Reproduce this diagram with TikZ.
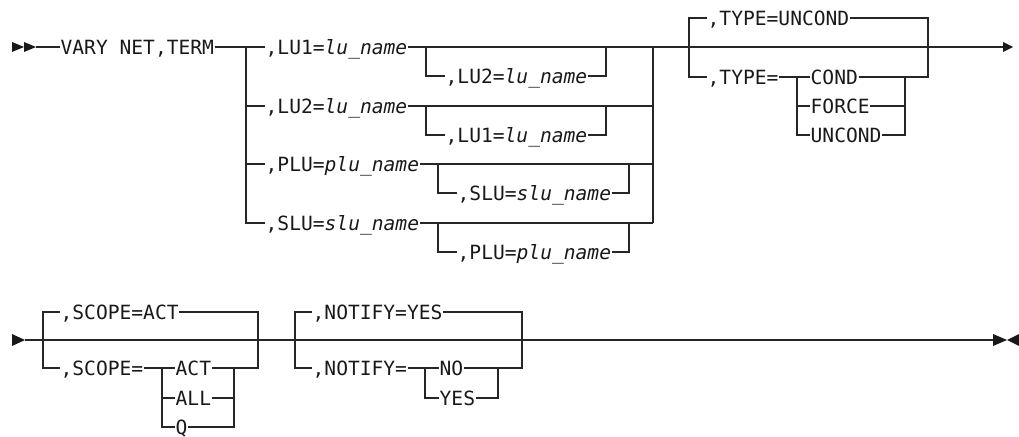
\documentclass[tikz,border=0pt]{standalone}
\usepackage{fontspec}
\newfontfamily\rrfont{DejaVu Sans Mono}[ItalicFont={DejaVu Sans Mono Oblique}]
\tikzset{
  rail/.style={line width=1.3pt, draw=black!85},
  kw/.style={inner sep=0pt, anchor=west, text height=14.3pt, text depth=0pt,
    font=\rrfont\fontsize{19.6}{24}\selectfont, text=black!90},
  tip/.style={fill=black!90},
}
\newcommand{\var}[1]{\textit{#1}}
\begin{document}
\begin{tikzpicture}[x=1pt,y=-1pt]
\useasboundingbox (0,0) rectangle (1019,436);
\begin{scope}[rail]
% ---------------- row 1 ----------------
\fill[tip] (12,42) -- (24,47) -- (12,52) -- cycle;
\fill[tip] (24,42) -- (36,47) -- (24,52) -- cycle;
\coordinate (a0) at (36,47);
\node[kw] (vary) at (60,47) {VARY NET,TERM};
\draw (a0) -- (vary.west);
\coordinate (b1) at (246,47);
\node[kw] (lu1) at (265,47)  {,LU1=\var{lu\_name}};
\node[kw] (lu2) at (265,106) {,LU2=\var{lu\_name}};
\node[kw] (plu) at (265,164) {,PLU=\var{plu\_name}};
\node[kw] (slu) at (265,223) {,SLU=\var{slu\_name}};
\draw (vary.east) -- (lu1.west);
\draw (b1) |- (lu2.west);
\draw (b1) |- (plu.west);
\draw (b1) |- (slu.west);
% right joiner
\coordinate (c1) at (653,47);
\coordinate (c4) at (653,223);
\draw (c1) -- (c4);
\draw (lu1.east) -- (c1);
\draw (lu2.east) -- (lu2.east -| c1);
\draw (plu.east) -- (plu.east -| c1);
\draw (slu.east) -- (slu.east -| c1);
% nested optional items
\coordinate (n1l) at (426,47);  \coordinate (n1r) at (606,47);
\node[kw] (lu1b) at (445,76) {,LU2=\var{lu\_name}};
\draw (n1l) |- (lu1b.west); \draw (lu1b.east) -| (n1r);
\coordinate (n2l) at (426,106); \coordinate (n2r) at (606,106);
\node[kw] (lu2b) at (445,135) {,LU1=\var{lu\_name}};
\draw (n2l) |- (lu2b.west); \draw (lu2b.east) -| (n2r);
\coordinate (n3l) at (438,164); \coordinate (n3r) at (629,164);
\node[kw] (plub) at (457,193) {,SLU=\var{slu\_name}};
\draw (n3l) |- (plub.west); \draw (plub.east) -| (n3r);
\coordinate (n4l) at (438,223); \coordinate (n4r) at (629,223);
\node[kw] (slub) at (457,252) {,PLU=\var{plu\_name}};
\draw (n4l) |- (slub.west); \draw (slub.east) -| (n4r);
% main line to continuation arrow
\coordinate (e1) at (1003,47);
\draw (c1) -- (e1);
\fill[tip] (1003,42) -- (1013,47) -- (1003,52) -- cycle;
% TYPE
\coordinate (t1) at (689,47); \coordinate (t2) at (928,47);
\node[kw] (tdef) at (707,18) {,TYPE=UNCOND};
\node[kw] (teq)  at (707,77) {,TYPE=};
\draw (t1) |- (tdef.west); \draw (tdef.east) -| (t2);
\draw (t1) |- (teq.west);
\coordinate (ti) at (797,77); \coordinate (to) at (905,77);
\node[kw] (tc) at (810,77)  {COND};
\node[kw] (tf) at (810,106) {FORCE};
\node[kw] (tu) at (810,135) {UNCOND};
\draw (teq.east) -- (ti);
\draw (ti) -- (tc.west); \draw (ti) |- (tf.west); \draw (ti) |- (tu.west);
\draw (tc.east) -- (to); \draw (tf.east) -| (to); \draw (tu.east) -| (to);
\draw (to) -| (t2);
% ---------------- row 2 ----------------
\fill[tip] (12,334) -- (25,340) -- (12,346) -- cycle;
\coordinate (r0) at (25,340);
\coordinate (r9) at (993,340);
\draw (r0) -- (r9);
\fill[tip] (993,334) -- (1007,340) -- (993,346) -- cycle;
\fill[tip] (1019,334) -- (1007,340) -- (1019,346) -- cycle;
% SCOPE
\coordinate (s1) at (43,340); \coordinate (s2) at (258,340);
\node[kw] (sdef) at (60,312) {,SCOPE=ACT};
\node[kw] (seq)  at (60,368) {,SCOPE=};
\draw (s1) |- (sdef.west); \draw (sdef.east) -| (s2);
\draw (s1) |- (seq.west);
\coordinate (si) at (162,368); \coordinate (so) at (234,368);
\node[kw] (sa) at (175,368) {ACT};
\node[kw] (sl) at (175,398) {ALL};
\node[kw] (sq) at (175,427) {Q};
\draw (seq.east) -- (si);
\draw (si) -- (sa.west); \draw (si) |- (sl.west); \draw (si) |- (sq.west);
\draw (sa.east) -- (so); \draw (sl.east) -| (so); \draw (sq.east) -| (so);
\draw (so) -| (s2);
% NOTIFY
\coordinate (m1) at (295,340); \coordinate (m2) at (522,340);
\node[kw] (mdef) at (312,312) {,NOTIFY=YES};
\node[kw] (meq)  at (312,368) {,NOTIFY=};
\draw (m1) |- (mdef.west); \draw (mdef.east) -| (m2);
\draw (m1) |- (meq.west);
\coordinate (mi) at (425,368); \coordinate (mo) at (498,368);
\node[kw] (mn) at (439,368) {NO};
\node[kw] (my) at (439,398) {YES};
\draw (meq.east) -- (mi);
\draw (mi) -- (mn.west); \draw (mi) |- (my.west);
\draw (mn.east) -- (mo); \draw (my.east) -| (mo);
\draw (mo) -| (m2);
\coordinate (k1) at (527,340); \coordinate (k2) at (550,340);
\draw[line width=2.2pt] (k1) -- (k2);
\end{scope}
\end{tikzpicture}
\end{document}
